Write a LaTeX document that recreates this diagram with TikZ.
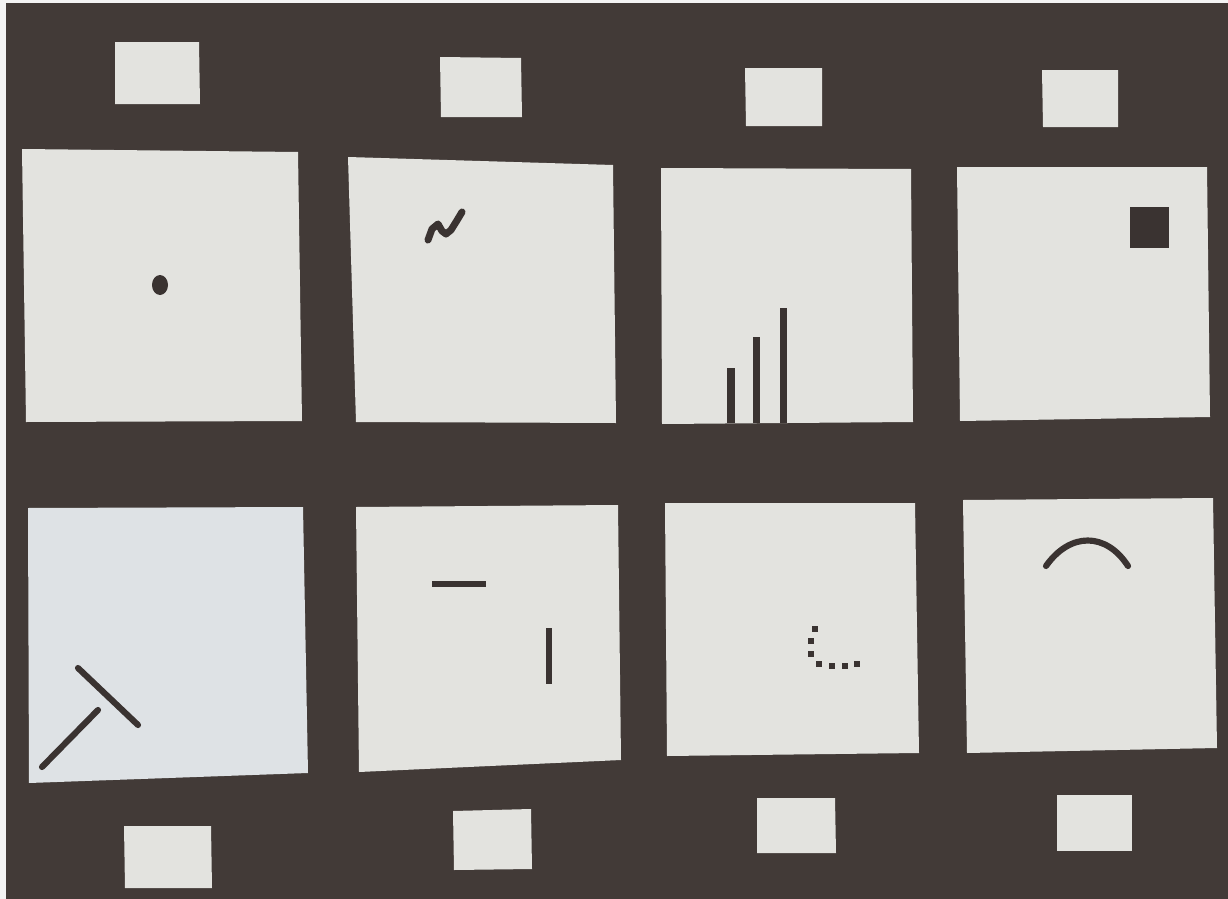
\documentclass[tikz,border=0pt]{standalone}
\begin{document}
\begin{tikzpicture}[x=0.02cm,y=-0.02cm]
\definecolor{bgc}{HTML}{423A37}
\definecolor{cardc}{HTML}{E3E3DF}
\definecolor{cardb}{HTML}{DEE2E5}
\definecolor{markc}{HTML}{3A3331}
\definecolor{edgec}{HTML}{F3F3F3}
\tikzset{
  card/.style={fill=cardc,draw=none},
  tag/.style={fill=cardc,draw=none},
  ink/.style={draw=markc,line width=3.5pt,line cap=round,line join=round},
  inkfill/.style={fill=markc,draw=none}
}
\useasboundingbox (0,0) rectangle (1228,899);
% background
\fill[bgc] (0,0) rectangle (1228,899);
\fill[edgec] (0,0) rectangle (6,899);
\fill[edgec] (0,0) rectangle (1228,3);
% top tags
\fill[tag] (115,42) -- (199,42) -- (200,104) -- (115,104) -- cycle;
\fill[tag] (440,57) -- (521,58) -- (522,117) -- (441,117) -- cycle;
\fill[tag] (745,68) -- (822,68) -- (822,126) -- (746,126) -- cycle;
\fill[tag] (1042,70) -- (1118,70) -- (1118,127) -- (1043,127) -- cycle;
% top cards
\fill[card] (22,149) -- (298,152) -- (302,421) -- (26,422) -- cycle;
\fill[card] (348,157) -- (613,165) -- (616,423) -- (356,422) -- cycle;
\fill[card] (661,168) -- (911,169) -- (913,422) -- (662,424) -- cycle;
\fill[card] (957,167) -- (1207,167) -- (1210,417) -- (960,421) -- cycle;
% bottom cards
\fill[cardb] (28,508) -- (303,507) -- (308,773) -- (29,783) -- cycle;
\fill[card] (356,507) -- (618,505) -- (621,760) -- (359,772) -- cycle;
\fill[card] (665,503) -- (915,503) -- (919,753) -- (667,756) -- cycle;
\fill[card] (963,500) -- (1213,498) -- (1217,748) -- (967,753) -- cycle;
% bottom tags
\fill[tag] (124,826) -- (211,826) -- (212,888) -- (125,888) -- cycle;
\fill[tag] (453,811) -- (531,809) -- (532,869) -- (454,870) -- cycle;
\fill[tag] (757,798) -- (835,798) -- (836,853) -- (757,853) -- cycle;
\fill[tag] (1057,795) -- (1132,795) -- (1132,851) -- (1057,851) -- cycle;
% card 1: dot
\fill[markc] (160,285) ellipse [x radius=8, y radius=10];
% card 2: squiggle
\draw[ink,line width=4pt] (428,240) -- (432,229) -- (438,224) -- (442,231) -- (446,234) -- (451,230) -- (456,222) -- (462,212);
% card 3: bars
\fill[inkfill] (727,368) rectangle (734.5,423);
\fill[inkfill] (752.5,337) rectangle (760,423);
\fill[inkfill] (779.5,308) rectangle (787,423);
% card 4: square
\fill[inkfill] (1130,207) rectangle (1169,248);
% card 5: T shape
\draw[ink] (78,668) -- (138,725);
\draw[ink] (98,710) -- (42,767);
% card 6: two segments
\draw[ink,line cap=butt] (432,584) -- (486,584);
\draw[ink,line cap=butt] (549,628) -- (549,684);
% card 7: dotted corner
\foreach \p in {(815,629),(810.5,641),(811,654),(819,664),(832,666),(845,666),(857,664)}
  \fill[markc] \p ++(-3,-3) rectangle ++(6,6);
% card 8: arc
\draw[ink] (1046,566) .. controls (1070,532) and (1106,532) .. (1128,566);
\end{tikzpicture}
\end{document}
